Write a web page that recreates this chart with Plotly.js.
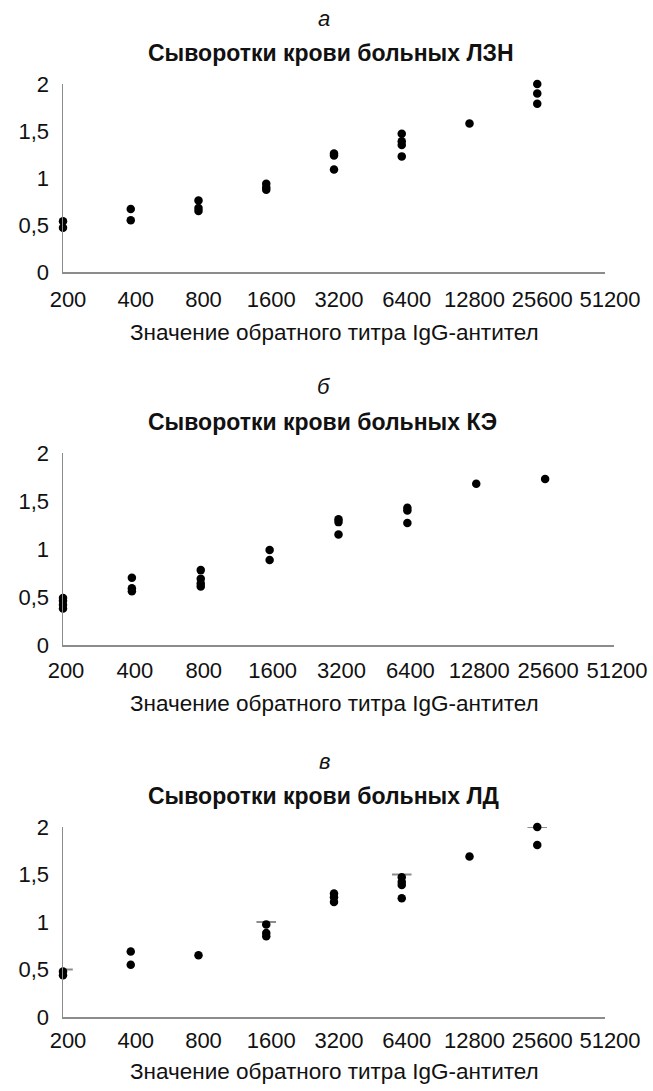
<!DOCTYPE html>
<html><head><meta charset="utf-8">
<script src="https://cdn.plot.ly/plotly-3.0.1.min.js"></script>
<style>html,body{margin:0;padding:0;background:#fff;}#chart{width:653px;height:1091px;}</style>
</head><body><div id="chart"></div>
<script>
// Categories (reverse titre of IgG antibodies)
const titres = ['200','400','800','1600','3200','6400','12800','25600','51200'];
const yTickVals = [0, 0.5, 1, 1.5, 2];
const yTickText = ['0', '0,5', '1', '1,5', '2'];

// Panel а: ЛЗН
const lznX = ['200','200','400','400','800','800','800','1600','1600','1600','3200','3200','3200','6400','6400','6400','6400','12800','25600','25600','25600'];
const lznY = [0.54,0.47, 0.67,0.55, 0.76,0.68,0.65, 0.94,0.90,0.875, 1.26,1.24,1.09, 1.47,1.39,1.35,1.23, 1.58, 2.00,1.90,1.79];

// Panel б: КЭ
const keX = ['200','200','200','200','400','400','400','800','800','800','800','1600','1600','3200','3200','3200','6400','6400','6400','12800','25600'];
const keY = [0.49,0.46,0.42,0.38, 0.70,0.59,0.56, 0.78,0.69,0.64,0.61, 0.99,0.885, 1.31,1.28,1.15, 1.43,1.40,1.27, 1.68, 1.73];

// Panel в: ЛД
const ldX = ['200','200','400','400','800','1600','1600','1600','3200','3200','3200','6400','6400','6400','6400','12800','25600','25600'];
const ldY = [0.48,0.44, 0.69,0.55, 0.65, 0.975,0.885,0.85, 1.30,1.26,1.21, 1.47,1.42,1.39,1.25, 1.69, 2.00,1.81];
// grey cap marks in panel в
const ldCapX = ['200','1600','6400','25600'];
const ldCapY = [0.5, 1.0, 1.5, 2.0];

const W = 653, H = 1091;
const px = v => v / W;
const py = v => 1 - v / H;

const font = 'Liberation Sans, Arial, sans-serif';
const dot = {color: '#000', size: 8.5};

const traces = [
  {x: lznX, y: lznY, type: 'scatter', mode: 'markers', marker: dot, xaxis: 'x', yaxis: 'y', cliponaxis: false, hoverinfo: 'x+y'},
  {x: keX, y: keY, type: 'scatter', mode: 'markers', marker: dot, xaxis: 'x2', yaxis: 'y2', cliponaxis: false, hoverinfo: 'x+y'},
  {x: ldCapX, y: ldCapY, type: 'scatter', mode: 'markers', marker: {symbol: 'line-ew', size: 14, line: {color: '#8c8c8c', width: 2}}, xaxis: 'x3', yaxis: 'y3', cliponaxis: true, hoverinfo: 'skip'},
  {x: ldX, y: ldY, type: 'scatter', mode: 'markers', marker: dot, xaxis: 'x3', yaxis: 'y3', cliponaxis: false, hoverinfo: 'x+y'}
];

function xAxis(domain, anchor, standoff, shift) {
  return {
    domain: domain, anchor: anchor, type: 'category', categoryarray: titres, categoryorder: 'array',
    range: [0, 8], showgrid: false, zeroline: false, showline: true, linecolor: '#8c8c8c', linewidth: 1.5,
    ticks: '', tickfont: {family: font, size: 22, color: '#111'}, ticklabelstandoff: standoff, ticklabelshift: shift, fixedrange: true
  };
}
function yAxis(domain, anchor) {
  return {
    domain: domain, anchor: anchor, range: [0, 2], tickvals: yTickVals, ticktext: yTickText,
    showgrid: false, zeroline: false, showline: true, linecolor: '#8c8c8c', linewidth: 1.5,
    ticks: '', tickfont: {family: font, size: 22, color: '#111'}, ticklabelstandoff: 8, fixedrange: true
  };
}

const panels = [
  {letter: 'а', title: 'Сыворотки крови больных ЛЗН', top: 84, bottom: 272, right: 605, standoff: 7, shift: 5, xtitleGap: 61},
  {letter: 'б', title: 'Сыворотки крови больных КЭ', top: 453, bottom: 645, right: 614, standoff: 5, shift: 3, xtitleGap: 58},
  {letter: 'в', title: 'Сыворотки крови больных ЛД', top: 827, bottom: 1017, right: 605, standoff: 3, shift: 5, xtitleGap: 54}
];

const layout = {
  width: W, height: H, margin: {l: 0, r: 0, t: 0, b: 0},
  paper_bgcolor: '#fff', plot_bgcolor: '#fff', showlegend: false,
  font: {family: font, color: '#111'},
  annotations: []
};
panels.forEach((p, i) => {
  const s = i === 0 ? '' : String(i + 1);
  layout['xaxis' + s] = xAxis([px(63), px(p.right)], 'y' + s, p.standoff, p.shift);
  layout['yaxis' + s] = yAxis([py(p.bottom), py(p.top)], 'x' + s);
  layout.annotations.push(
    {text: '<i>' + p.letter + '</i>', xref: 'paper', yref: 'paper', x: px(324), y: py(p.top - 66), xanchor: 'center', yanchor: 'middle', showarrow: false, font: {family: font, size: 22, color: '#111'}},
    {text: '<b>' + p.title + '</b>', xref: 'paper', yref: 'paper', x: px(146), y: py(p.top - 31), xanchor: 'left', yanchor: 'middle', showarrow: false, font: {family: font, size: 23, color: '#111'}},
    {text: 'Значение обратного титра IgG-антител', xref: 'paper', yref: 'paper', x: px(334), y: py(p.bottom + p.xtitleGap), xanchor: 'center', yanchor: 'middle', showarrow: false, font: {family: font, size: 22.5, color: '#111'}}
  );
});

Plotly.newPlot('chart', traces, layout, {displayModeBar: false, staticPlot: true});
</script>
</body></html>
